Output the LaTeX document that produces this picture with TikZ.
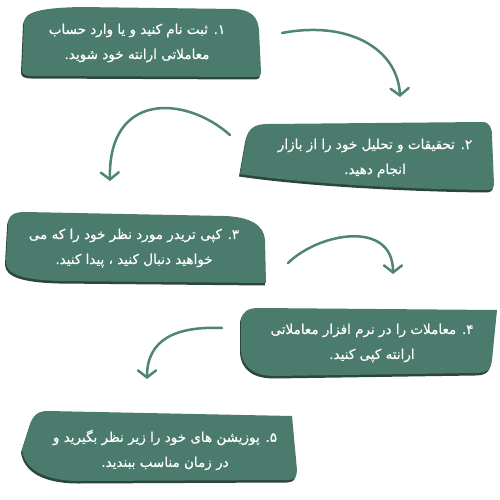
\documentclass[tikz,border=0pt]{standalone}
\usepackage{fontspec}
\usetikzlibrary{arrows.meta}
\TeXXeTstate=1
\newfontfamily\arabicfont[Script=Arabic,FakeBold=0.6]{DejaVu Sans}
\definecolor{boxfill}{HTML}{4A7B6D}
\definecolor{boxshadow}{HTML}{2C463E}
\definecolor{arrowcol}{HTML}{4E8576}
\newcommand\shapeA{(22,70) -- (24,22) .. controls (25,12) and (40,8) .. (80,7) -- (235,9) .. controls (252,10) and (258,18) .. (259,30) -- (261,72) .. controls (261,76) and (259,77) .. (255,77) -- (32,76) .. controls (25,76) and (22,74) .. (22,70) -- cycle}
\newcommand\shapeB{(240,174) -- (246,140) .. controls (248,128) and (255,124) .. (268,124) -- (482,122) .. controls (490,122) and (492,128) .. (492,136) -- (494,184) .. controls (494,189) and (491,190) .. (486,190) .. controls (400,189) and (300,183) .. (240,174) -- cycle}
\newcommand\shapeC{(6,262) -- (8,225) .. controls (8,215) and (14,212) .. (25,212) -- (225,216) .. controls (250,217) and (264,225) .. (265,240) -- (266,283) -- (60,281) .. controls (25,280) and (6,275) .. (6,262) -- cycle}
\newcommand\shapeD{(241,350) -- (241,320) .. controls (242,312) and (248,308) .. (258,308) -- (497,310) -- (492,360) .. controls (491,370) and (486,373) .. (476,373) -- (275,376) .. controls (255,376) and (242,368) .. (241,350) -- cycle}
\newcommand\shapeE{(22,450) -- (30,425) .. controls (33,415) and (38,411) .. (48,411) -- (292,416) -- (297,470) .. controls (297,477) and (294,480) .. (288,480) -- (80,481) .. controls (45,481) and (25,470) .. (22,450) -- cycle}
\begin{document}
\begin{tikzpicture}[x=1pt,y=-1pt,
  shadowfill/.style={fill=boxshadow, shift={(-1,2.5)}},
  mainfill/.style={fill=boxfill},
  txt/.style={text=white, align=center, inner sep=0pt,
    font=\arabicfont\fontsize{13.5}{25}\selectfont},
  conn/.style={draw=arrowcol, line width=2.5pt, line cap=round,
    -{Straight Barb[length=7pt,width=18pt,line cap=round]}}]
\useasboundingbox (0,0) rectangle (500,500);
\fill[white] (0,0) rectangle (500,500);
% boxes
\path[shadowfill] \shapeA;
\path[mainfill] \shapeA;
\path[shadowfill] \shapeB;
\path[mainfill] \shapeB;
\path[shadowfill] \shapeC;
\path[mainfill] \shapeC;
\path[shadowfill] \shapeD;
\path[mainfill] \shapeD;
\path[shadowfill] \shapeE;
\path[mainfill] \shapeE;
% texts
\node[txt] (t1) at (137,43) {\beginR ۱. ثبت نام کنید و یا وارد حساب\endR\\\beginR معاملاتی ارانته خود شوید.\endR};
\node[txt] (t2) at (375,158) {\beginR ۲. تحقیقات و تحلیل خود را از بازار\endR\\\beginR انجام دهید.\endR};
\node[txt] (t3) at (134,248) {\beginR ۳. کپی تریدر مورد نظر خود را که می\endR\\\beginR خواهید دنبال کنید ، پیدا کنید.\endR};
\node[txt] (t4) at (372,343) {\beginR ۴. معاملات را در نرم افزار معاملاتی\endR\\\beginR ارانته کپی کنید.\endR};
\node[txt] (t5) at (165,450) {\beginR ۵. پوزیشن های خود را زیر نظر بگیرید و\endR\\\beginR در زمان مناسب ببندید.\endR};
% connector endpoints
\coordinate (a1s) at (282,33);
\coordinate (a1e) at (400,97);
\coordinate (a2s) at (230,135);
\coordinate (a2e) at (110,181);
\coordinate (a3s) at (288,263);
\coordinate (a3e) at (393,274);
\coordinate (a4s) at (222,328);
\coordinate (a4e) at (147,379);
\draw[conn] (a1s) .. controls (350,20) and (398,50) .. (a1e);
\draw[conn] (a2s) .. controls (185,95) and (108,92) .. (a2e);
\draw[conn] (a3s) .. controls (320,232) and (393,220) .. (a3e);
\draw[conn] (a4s) .. controls (175,326) and (147,340) .. (a4e);
\end{tikzpicture}
\end{document}
